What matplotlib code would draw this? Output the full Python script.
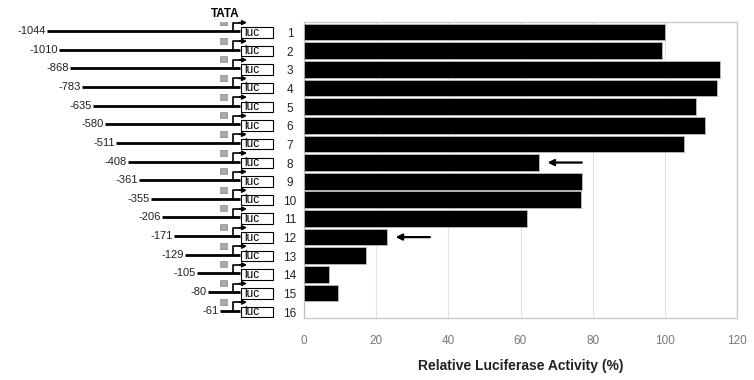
import matplotlib.pyplot as plt
from matplotlib.patches import Rectangle

# ── data
constructs = list(range(1, 17))
promoter_ends = [-1044, -1010, -868, -783, -635, -580, -511, -408,
                 -361, -355, -206, -171, -129, -105, -80, -61]
activity = [100.0, 99.1, 115.2, 114.5, 108.6, 111.0, 105.3, 65.0,
            77.1, 76.7, 61.7, 22.9, 17.2, 7.0, 9.3, 0.0]
arrow_rows = [8, 12]
x_ticks = [0, 20, 40, 60, 80, 100, 120]

plt.rcParams['font.family'] = ['Liberation Sans', 'DejaVu Sans']

W, H = 754, 380
fig = plt.figure(figsize=(W / 100, H / 100), dpi=100)

# ── bar chart
ax = fig.add_axes([304 / W, 1 - 318 / H, 433 / W, 296 / H])
ax.barh(constructs, activity, height=0.9, color='black', edgecolor='#bbbbbb', linewidth=0.6, zorder=3)
ax.set_xlim(0, 120)
ax.set_ylim(16.34, 0.46)
ax.set_xticks(x_ticks)
ax.set_xticklabels([str(t) for t in x_ticks], color='#777777', fontsize=8.5)
ax.set_yticks([])
ax.tick_params(axis='x', length=0, pad=12)
ax.grid(axis='x', color='#e3e3e3', linewidth=0.8, zorder=0)
for s in ax.spines.values():
    s.set_color('#cccccc')
    s.set_linewidth(1.0)
ax.set_xlabel('Relative Luciferase Activity (%)', fontsize=10, fontweight='bold',
              color='#222222', labelpad=9)

for r in arrow_rows:
    x0 = activity[r - 1]
    ax.annotate('', xy=(x0 + 2.5, r), xytext=(x0 + 12, r),
                arrowprops=dict(arrowstyle='-|>', color='black', lw=1.6,
                                mutation_scale=9, shrinkA=0, shrinkB=0))

# ── promoter construct schematic (x in figure pixels, y shared with bars)
left = fig.add_axes([0, 1 - 318 / H, 304 / W, 296 / H], sharey=ax)
left.set_xlim(0, 304)
left.axis('off')
px = 1 / 18.65  # one pixel in row units

left.text(225, 0.46 - 8 * px, 'TATA', ha='center', va='center', fontsize=8.5,
          fontweight='bold')

for i, (row, end) in enumerate(zip(constructs, promoter_ends)):
    y_line = row - 1 * px
    x_start = 47 + 11.5 * i
    left.plot([x_start, 240], [y_line, y_line], color='black', lw=2, solid_capstyle='butt')
    left.text(x_start - 1, y_line, str(end), ha='right', va='center', fontsize=8,
              color='#222222')
    # TATA box
    left.add_patch(Rectangle((220, y_line - 12 * px), 7, 6 * px, facecolor='#aaaaaa',
                             edgecolor='#888888', lw=0.5))
    # transcription start arrow
    left.plot([233, 233, 240], [y_line, y_line - 8.5 * px, y_line - 8.5 * px],
              color='black', lw=1.2)
    left.annotate('', xy=(247, y_line - 8.5 * px), xytext=(239, y_line - 8.5 * px),
                  arrowprops=dict(arrowstyle='-|>', color='black', lw=1.0,
                                  mutation_scale=7, shrinkA=0, shrinkB=0))
    # luc box
    left.add_patch(Rectangle((241, y_line - 4 * px), 32, 10.5 * px, facecolor='white',
                             edgecolor='black', lw=0.8))
    left.text(244, y_line + 1.5 * px, 'luc', ha='left', va='center', fontsize=8.5)
    left.text(290, row + 2 * px, str(row), ha='center', va='center', fontsize=8.5,
              color='#222222')

fig.savefig('out.png', dpi=100)
